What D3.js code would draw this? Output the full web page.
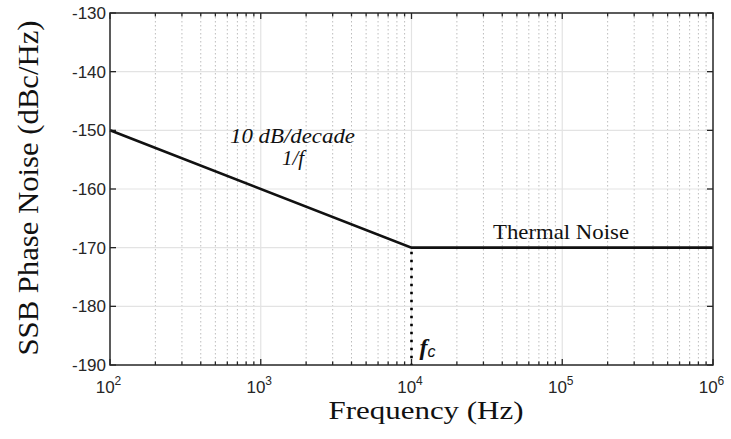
<!DOCTYPE html>
<html><head><meta charset="utf-8">
<script src="https://cdn.jsdelivr.net/npm/d3@7"></script>
<style>body{margin:0;background:#fff}svg{display:block}</style>
</head><body>
<svg id="c" width="731" height="439"></svg>
<script>
const freqs = [1e2, 1e4, 1e6];
const noise = [-150, -170, -170];
const cornerFreq = 1e4;
const cornerLevel = -170;
const yTicks = [-190, -180, -170, -160, -150, -140, -130];
const xMajor = [1e2, 1e3, 1e4, 1e5, 1e6];
const xExp = ["2", "3", "4", "5", "6"];

const svg = d3.select("#c");
const L = 110, R = 713, T = 13, B = 365;
const x = d3.scaleLog().domain([1e2, 1e6]).range([L, R]);
const y = d3.scaleLinear().domain([-190, -130]).range([B, T]);

const xMinor = [];
for (let d = 2; d < 6; d++) for (let k = 2; k <= 9; k++) xMinor.push(k * Math.pow(10, d));

const g = svg.append("g");
g.selectAll(".mg").data(xMinor).enter().append("line")
  .attr("x1", d => x(d)).attr("x2", d => x(d)).attr("y1", T).attr("y2", B)
  .attr("stroke", "#bdbdbd").attr("stroke-width", 1).attr("stroke-dasharray", "1.5,2.5");
g.selectAll(".Mg").data(xMajor.slice(1, -1)).enter().append("line")
  .attr("x1", d => x(d)).attr("x2", d => x(d)).attr("y1", T).attr("y2", B)
  .attr("stroke", "#e3e3e3").attr("stroke-width", 1.2);
g.selectAll(".Yg").data(yTicks.slice(1, -1)).enter().append("line")
  .attr("x1", L).attr("x2", R).attr("y1", d => y(d)).attr("y2", d => y(d))
  .attr("stroke", "#e3e3e3").attr("stroke-width", 1.2);

const tc = "#262626";
const tk = svg.append("g").attr("stroke", tc).attr("stroke-width", 1.3);
xMajor.forEach(d => {
  tk.append("line").attr("x1", x(d)).attr("x2", x(d)).attr("y1", B).attr("y2", B - 6);
  tk.append("line").attr("x1", x(d)).attr("x2", x(d)).attr("y1", T).attr("y2", T + 6);
});
xMinor.forEach(d => {
  tk.append("line").attr("x1", x(d)).attr("x2", x(d)).attr("y1", B).attr("y2", B - 3.5);
  tk.append("line").attr("x1", x(d)).attr("x2", x(d)).attr("y1", T).attr("y2", T + 3.5);
});
yTicks.forEach(d => {
  tk.append("line").attr("x1", L).attr("x2", L + 6).attr("y1", y(d)).attr("y2", y(d));
  tk.append("line").attr("x1", R).attr("x2", R - 6).attr("y1", y(d)).attr("y2", y(d));
});

svg.append("line")
  .attr("x1", x(cornerFreq)).attr("x2", x(cornerFreq))
  .attr("y1", y(cornerLevel) + 4).attr("y2", y(-190))
  .attr("stroke", "#000").attr("stroke-width", 2.6)
  .attr("stroke-dasharray", "2.6,5.4");

svg.append("path")
  .datum(freqs.map((f, i) => [f, noise[i]]))
  .attr("d", d3.line().x(d => x(d[0])).y(d => y(d[1])))
  .attr("fill", "none").attr("stroke", "#111").attr("stroke-width", 2.7);

svg.append("rect").attr("x", L).attr("y", T).attr("width", R - L).attr("height", B - T)
  .attr("fill", "none").attr("stroke", tc).attr("stroke-width", 1.5);

svg.append("g").selectAll("text").data(yTicks).enter().append("text")
  .attr("x", L - 4).attr("y", d => y(d) + 6)
  .attr("text-anchor", "end")
  .attr("font-family", "Liberation Sans, Arial, sans-serif")
  .attr("font-size", 17).attr("fill", tc)
  .text(d => d);

const xl = svg.append("g");
xMajor.forEach((d, i) => {
  const t = xl.append("text").attr("x", x(d) - 1.5).attr("y", 393)
    .attr("text-anchor", "middle")
    .attr("font-family", "Liberation Sans, Arial, sans-serif")
    .attr("font-size", 17).attr("fill", tc);
  t.append("tspan").text("10");
  t.append("tspan").attr("dy", -8).attr("font-size", 12).text(xExp[i]);
});

const serif = "Liberation Serif, Times New Roman, serif";
svg.append("text").attr("x", 426).attr("y", 419).attr("text-anchor", "middle")
  .attr("font-family", serif).attr("font-size", 25)
  .attr("textLength", 195).attr("lengthAdjust", "spacingAndGlyphs")
  .attr("fill", "#111").text("Frequency (Hz)");
svg.append("text").attr("transform", "translate(38,188) rotate(-90)")
  .attr("text-anchor", "middle")
  .attr("font-family", serif).attr("font-size", 30)
  .attr("textLength", 335).attr("lengthAdjust", "spacingAndGlyphs")
  .attr("fill", "#111").text("SSB Phase Noise (dBc/Hz)");

svg.append("text").attr("x", 292.5).attr("y", 143).attr("text-anchor", "middle")
  .attr("font-family", serif).attr("font-style", "italic").attr("font-size", 21)
  .attr("textLength", 125).attr("lengthAdjust", "spacingAndGlyphs")
  .attr("fill", "#111").text("10 dB/decade");
svg.append("text").attr("x", 293).attr("y", 165).attr("text-anchor", "middle")
  .attr("font-family", serif).attr("font-style", "italic").attr("font-size", 21)
  .attr("fill", "#111").text("1/f");
svg.append("text").attr("x", 561).attr("y", 239).attr("text-anchor", "middle")
  .attr("font-family", serif).attr("font-size", 21)
  .attr("textLength", 136).attr("lengthAdjust", "spacingAndGlyphs")
  .attr("fill", "#111").text("Thermal Noise");
const fc = svg.append("text").attr("x", x(cornerFreq) + 8).attr("y", 355)
  .attr("font-family", serif)
  .attr("font-style", "italic").attr("font-weight", "bold").attr("font-size", 24).attr("fill", "#111");
fc.append("tspan").text("f");
fc.append("tspan").attr("dy", 2).attr("font-family", "Liberation Sans, Arial, sans-serif")
  .attr("font-weight", "normal").attr("font-size", 16).text("c");
</script>
</body></html>
